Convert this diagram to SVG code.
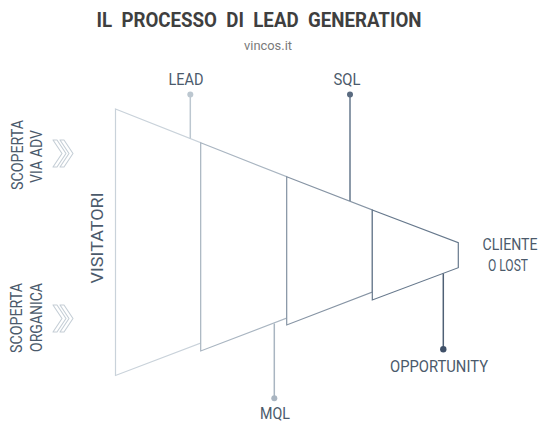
<svg xmlns="http://www.w3.org/2000/svg" width="546" height="430" viewBox="0 0 546 430">
<style>
.lbl{font-family:Roboto,"Liberation Sans",sans-serif;font-size:16.5px;fill:#4b5a6b}
.seg{fill:#fff;stroke-width:1.2;stroke-linejoin:miter}
.chev{fill:#fff;stroke:#c5ced6;stroke-width:1.1;stroke-linejoin:round}
.pin{stroke-width:1.5;fill:none}
</style>
<rect width="546" height="430" fill="#fff"/>
<text x="259" y="27" text-anchor="middle" textLength="325" lengthAdjust="spacingAndGlyphs" style="font-family:Roboto,'Liberation Sans',sans-serif;font-weight:bold;font-size:20px;fill:#3f3f3f;white-space:pre" xml:space="preserve">IL  PROCESSO  DI  LEAD  GENERATION</text>
<text x="268" y="50" text-anchor="middle" textLength="48" lengthAdjust="spacingAndGlyphs" style="font-family:Roboto,'Liberation Sans',sans-serif;font-size:12.5px;fill:#7a7a7a">vincos.it</text>

<g id="funnel">
<g id="seg1"><polygon class="seg" stroke="#c9d2da" points="115.5,109 200.7,142.7 200.7,343 115.5,375.5"/></g>
<g id="seg2"><polygon class="seg" stroke="#a9b5c1" points="200.7,142.7 286.7,176.7 286.7,318 200.7,351"/></g>
<g id="seg3"><polygon class="seg" stroke="#8694a4" points="286.7,176.7 372.3,210 372.3,292 286.7,325"/></g>
<g id="seg4"><polygon class="seg" stroke="#66788c" points="372.3,210 458.3,242.7 458.3,267.7 372.3,300"/></g>
</g>

<g id="connectors">
<line class="pin" x1="190.3" y1="94.5" x2="190.3" y2="138.5" stroke="#bcc7d0"/>
<circle cx="190.3" cy="94.5" r="3" fill="#bcc7d0"/>
<line class="pin" x1="350" y1="94.5" x2="350" y2="201" stroke="#66788c"/>
<circle cx="350" cy="94.5" r="3" fill="#5a6b80"/>
<line class="pin" x1="274.3" y1="323.5" x2="274.3" y2="398.3" stroke="#a9b5c1"/>
<circle cx="274.3" cy="398.3" r="3" fill="#a9b5c1"/>
<line class="pin" x1="443.3" y1="273.5" x2="443.3" y2="349.3" stroke="#4f6075"/>
<circle cx="443.3" cy="349.3" r="3.2" fill="#3f5068"/>
</g>

<g id="lead"><text class="lbl" x="186" y="85" text-anchor="middle" textLength="35" lengthAdjust="spacingAndGlyphs">LEAD</text></g>
<g id="sql"><text class="lbl" x="347" y="85" text-anchor="middle" textLength="27" lengthAdjust="spacingAndGlyphs">SQL</text></g>
<g id="mql"><text class="lbl" x="275" y="419" text-anchor="middle" textLength="30" lengthAdjust="spacingAndGlyphs">MQL</text></g>
<g id="opportunity"><text class="lbl" x="439" y="372" text-anchor="middle" textLength="98" lengthAdjust="spacingAndGlyphs">OPPORTUNITY</text></g>
<g id="cliente">
<text class="lbl" x="510" y="250" text-anchor="middle" textLength="55" lengthAdjust="spacingAndGlyphs">CLIENTE</text>
<text class="lbl" x="508" y="271" text-anchor="middle" textLength="40" lengthAdjust="spacingAndGlyphs">O LOST</text>
</g>
<g id="visitatori"><text class="lbl" transform="translate(103,238) rotate(-90)" x="0" y="0" text-anchor="middle" textLength="91" lengthAdjust="spacingAndGlyphs">VISITATORI</text></g>

<g id="scoperta-adv">
<text class="lbl" transform="translate(23,155) rotate(-90)" text-anchor="middle" textLength="70" lengthAdjust="spacingAndGlyphs">SCOPERTA</text>
<text class="lbl" transform="translate(42,156.5) rotate(-90)" text-anchor="middle" textLength="53" lengthAdjust="spacingAndGlyphs">VIA ADV</text>
<polygon class="chev" points="53,140 57,140 66,153.5 57,167 53,167 62,153.5"/>
<polygon class="chev" points="60,140 64,140 73,153.5 64,167 60,167 69,153.5"/>
</g>
<g id="scoperta-organica">
<text class="lbl" transform="translate(22,318) rotate(-90)" text-anchor="middle" textLength="70" lengthAdjust="spacingAndGlyphs">SCOPERTA</text>
<text class="lbl" transform="translate(42,317.5) rotate(-90)" text-anchor="middle" textLength="69" lengthAdjust="spacingAndGlyphs">ORGANICA</text>
<polygon class="chev" points="53,305 57,305 66,318.5 57,332 53,332 62,318.5"/>
<polygon class="chev" points="60,305 64,305 73,318.5 64,332 60,332 69,318.5"/>
</g>
</svg>
